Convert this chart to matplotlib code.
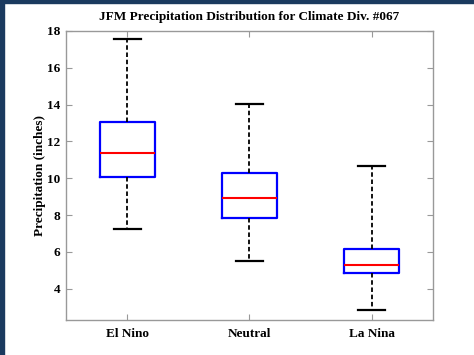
import matplotlib
matplotlib.use("Agg")
import matplotlib.pyplot as plt
from matplotlib.patches import Rectangle

categories = ["El Nino", "Neutral", "La Nina"]
whis_lo = [7.25, 5.53, 2.86]
q1 = [10.05, 7.83, 4.87]
medians = [11.39, 8.91, 5.28]
q3 = [13.05, 10.30, 6.18]
whis_hi = [17.57, 14.04, 10.65]
yticks = [4, 6, 8, 10, 12, 14, 16, 18]

plt.rcParams['font.family'] = ['Liberation Serif', 'DejaVu Serif']
plt.rcParams['font.weight'] = 'bold'

fig = plt.figure(figsize=(4.74, 3.55), dpi=100)
ax = fig.add_axes([0.139, 0.0986, 0.7745, 0.8141])

stats = []
for name, lo, a, m, b, hi in zip(categories, whis_lo, q1, medians, q3, whis_hi):
    stats.append({'label': name, 'whislo': lo, 'q1': a, 'med': m, 'q3': b,
                  'whishi': hi, 'fliers': []})

ax.bxp(stats, positions=[1, 2, 3], widths=0.45, capwidths=0.22,
       boxprops=dict(color='#0000ff', linewidth=1.6),
       medianprops=dict(color='#ff0000', linewidth=1.5),
       whiskerprops=dict(color='black', linewidth=1.3, linestyle=(0, (2.5, 1.5))),
       capprops=dict(color='black', linewidth=1.6),
       showfliers=False)

ax.set_xlim(0.5, 3.5)
ax.set_ylim(2.3, 18)
ax.set_yticks(yticks)
ax.set_xticks([1, 2, 3])
ax.set_xticklabels(categories)

for s in ax.spines.values():
    s.set_color('#999999')
    s.set_linewidth(1.0)
ax.tick_params(direction='in', length=4, color='#999999', top=True, right=True,
               labelsize=9.5, pad=4)
for lab in ax.get_xticklabels() + ax.get_yticklabels():
    lab.set_fontweight('bold')
ax.tick_params(axis='x', pad=6)

ax.set_ylabel("Precipitation (inches)", fontsize=9.5, fontweight='bold', labelpad=1)
ax.set_title("JFM Precipitation Distribution for Climate Div. #067",
             fontsize=9.5, fontweight='bold', pad=8)

border = '#1b3a5f'
fig.patches.append(Rectangle((0, 0), 4 / 474, 1, transform=fig.transFigure,
                             color=border, zorder=10))
fig.patches.append(Rectangle((0, 1 - 3 / 355), 1, 3 / 355, transform=fig.transFigure,
                             color=border, zorder=10))

fig.savefig("out.png", dpi=100)
